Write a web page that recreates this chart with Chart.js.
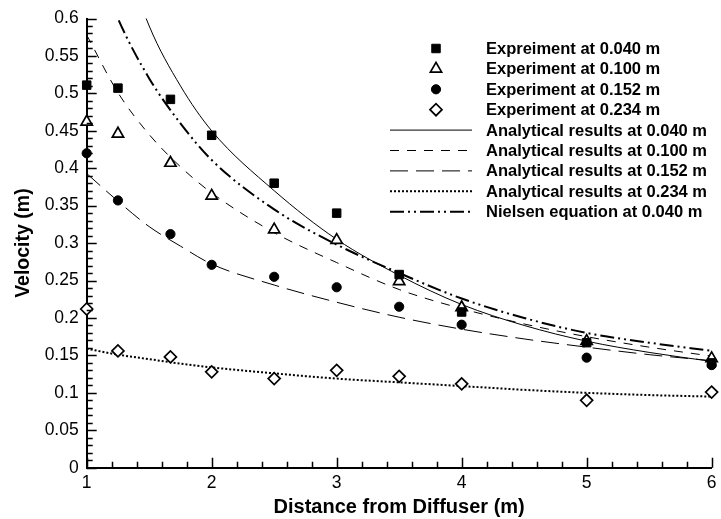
<!DOCTYPE html>
<html>
<head>
<meta charset="utf-8">
<script src="https://cdn.jsdelivr.net/npm/chart.js@4/dist/chart.umd.min.js"></script>
<style>
  html, body { margin: 0; padding: 0; background: #fff; }
  #wrap { width: 721px; height: 519px; }
</style>
</head>
<body>
<div id="wrap"><canvas id="c" width="721" height="519"></canvas></div>
<script>
// ---------- data ----------
const expX = [1, 1.25, 1.67, 2, 2.5, 3, 3.5, 4, 5, 6];
const exp040 = [0.511, 0.507, 0.492, 0.444, 0.380, 0.340, 0.258, 0.208, 0.167, 0.140];
const exp100 = [0.462, 0.446, 0.407, 0.363, 0.318, 0.304, 0.249, 0.214, 0.169, 0.146];
const exp152 = [0.420, 0.357, 0.312, 0.271, 0.255, 0.241, 0.215, 0.191, 0.147, 0.137];
const exp234 = [0.212, 0.156, 0.148, 0.128, 0.119, 0.130, 0.122, 0.112, 0.090, 0.101];

const curveX = [1, 1.25, 1.5, 1.75, 2, 2.5, 3, 3.5, 4, 4.5, 5, 5.5, 6];
const ana040  = [0.86, 0.71, 0.59, 0.51, 0.45, 0.37, 0.305, 0.257, 0.218, 0.19, 0.169, 0.154, 0.142];
const ana100  = [0.578, 0.501, 0.445, 0.402, 0.367, 0.314, 0.274, 0.238, 0.2125, 0.192, 0.175, 0.161, 0.149];
const ana152  = [0.393, 0.356, 0.322, 0.296, 0.272, 0.244, 0.221, 0.201, 0.185, 0.172, 0.161, 0.151, 0.143];
const ana234  = [0.159, 0.151, 0.145, 0.139, 0.134, 0.126, 0.119, 0.114, 0.109, 0.104, 0.100, 0.097, 0.095];
const nielsen = [0.71, 0.60, 0.52, 0.46, 0.411, 0.345, 0.298, 0.26, 0.226, 0.2, 0.18, 0.167, 0.156];

const seriesLabels = [
  'Expreiment at 0.040 m', 'Experiment at 0.100 m', 'Experiment at 0.152 m', 'Experiment at 0.234 m',
  'Analytical results at 0.040 m', 'Analytical results at 0.100 m', 'Analytical results at 0.152 m',
  'Analytical results at 0.234 m', 'Nielsen equation at 0.040 m'
];
const yTickLabels = ['0','0.05','0.1','0.15','0.2','0.25','0.3','0.35','0.4','0.45','0.5','0.55','0.6'];
const xTickLabels = ['1','2','3','4','5','6'];
const xTitle = 'Distance from Diffuser (m)';
const yTitle = 'Velocity (m)';

// ---------- build ----------
const FONT = '"Liberation Sans", Arial, Helvetica, sans-serif';
const pts = (xs, ys) => xs.map((x, i) => ({ x: x, y: ys[i] }));

function markerSet(label, ys, style, fill, r, bw) {
  return {
    label: label, data: pts(expX, ys), showLine: false,
    pointStyle: style, pointRadius: r, pointHoverRadius: r,
    pointBackgroundColor: fill, pointBorderColor: '#000', pointBorderWidth: bw,
    backgroundColor: fill, borderColor: '#000', borderWidth: bw, clip: false
  };
}
function curveSet(label, ys, dash, w) {
  return {
    label: label, data: pts(curveX, ys), showLine: true, pointRadius: 0,
    borderColor: '#000', borderWidth: w, borderDash: dash, fill: false,
    cubicInterpolationMode: 'monotone'
  };
}

const datasets = [
  markerSet(seriesLabels[0], exp040, 'rect', '#000', 6, 1),
  markerSet(seriesLabels[1], exp100, 'triangle', '#fff', 6.5, 1.7),
  markerSet(seriesLabels[2], exp152, 'circle', '#000', 4.6, 1),
  markerSet(seriesLabels[3], exp234, 'rectRot', '#fff', 6, 1.7),
  curveSet(seriesLabels[4], ana040, [], 1),
  curveSet(seriesLabels[5], ana100, [9, 8], 1),
  curveSet(seriesLabels[6], ana152, [18, 8], 1),
  curveSet(seriesLabels[7], ana234, [2, 2], 2),
  curveSet(seriesLabels[8], nielsen, [14, 4, 2, 4, 2, 4], 2)
];

// inward major/minor ticks on the two axes
const tickPlugin = {
  id: 'inwardTicks',
  afterDraw(chart) {
    const { ctx, chartArea: a, scales: { x, y } } = chart;
    ctx.save();
    ctx.strokeStyle = '#000';
    ctx.lineWidth = 1.5;
    ctx.beginPath();
    for (let k = 0; k <= 60; k++) {
      const py = Math.round(y.getPixelForValue(k / 100)) + 0.5;
      const len = (k % 5 === 0) ? 10 : 6;
      ctx.moveTo(a.left, py); ctx.lineTo(a.left + len, py);
    }
    for (let k = 0; k <= 25; k++) {
      const px = Math.round(x.getPixelForValue(1 + k * 0.2)) + 0.5;
      const len = (k % 5 === 0) ? 10 : 6;
      ctx.moveTo(px, a.bottom); ctx.lineTo(px, a.bottom - len);
    }
    ctx.stroke();
    ctx.restore();
  }
};

// legend drawn inside the plot area
const legendPlugin = {
  id: 'innerLegend',
  afterDraw(chart) {
    const ctx = chart.ctx;
    const ds = chart.data.datasets;
    const y0 = 48.5, dy = 20.4, mx = 436, lx0 = 390, lx1 = 472, tx = 486;
    ctx.save();
    ctx.font = 'bold 16.5px ' + FONT;
    ctx.textBaseline = 'middle';
    ctx.textAlign = 'left';
    ds.forEach((d, i) => {
      const yy = y0 + i * dy;
      ctx.setLineDash([]);
      if (d.showLine === false) {
        ctx.fillStyle = d.pointBackgroundColor;
        ctx.strokeStyle = '#000';
        ctx.lineWidth = d.pointBorderWidth;
        const r = d.pointRadius;
        ctx.beginPath();
        if (d.pointStyle === 'rect') {
          const s = r * Math.SQRT1_2;
          ctx.rect(mx - s, yy - s, 2 * s, 2 * s);
        } else if (d.pointStyle === 'triangle') {
          ctx.moveTo(mx, yy - r);
          ctx.lineTo(mx + r * 0.866, yy + r * 0.5);
          ctx.lineTo(mx - r * 0.866, yy + r * 0.5);
          ctx.closePath();
        } else if (d.pointStyle === 'circle') {
          ctx.arc(mx, yy, r, 0, Math.PI * 2);
        } else {
          ctx.moveTo(mx - r, yy); ctx.lineTo(mx, yy - r);
          ctx.lineTo(mx + r, yy); ctx.lineTo(mx, yy + r);
          ctx.closePath();
        }
        ctx.fill(); ctx.stroke();
      } else {
        ctx.strokeStyle = '#000';
        ctx.lineWidth = d.borderWidth;
        ctx.setLineDash(d.borderDash || []);
        ctx.beginPath();
        ctx.moveTo(lx0, yy); ctx.lineTo(lx1, yy);
        ctx.stroke();
        ctx.setLineDash([]);
      }
      ctx.fillStyle = '#000';
      ctx.fillText(d.label, tx, yy + 1);
    });
    ctx.restore();
  }
};

Chart.defaults.color = '#000';
Chart.defaults.font.family = FONT;

new Chart(document.getElementById('c'), {
  type: 'scatter',
  data: { datasets: datasets },
  options: {
    responsive: false,
    animation: false,
    events: [],
    layout: { padding: { left: 0, top: 13.5, right: 9.3, bottom: 0 } },
    plugins: { legend: { display: false }, tooltip: { enabled: false } },
    scales: {
      x: {
        type: 'linear', min: 1, max: 6,
        ticks: { stepSize: 1, padding: 4.5, font: { size: 17.5 }, color: '#000',
                 callback: (v, i) => xTickLabels[i] },
        grid: { display: true, drawOnChartArea: false, drawTicks: false },
        border: { display: true, color: '#000', width: 2 },
        title: { display: true, text: xTitle, font: { size: 20, weight: 'bold' }, padding: { top: 0, bottom: 0 } },
        afterFit: (s) => { s.height = 51.3; }
      },
      y: {
        type: 'linear', min: 0, max: 0.6,
        ticks: { stepSize: 0.05, padding: 8, font: { size: 17.5 }, color: '#000',
                 callback: (v, i) => yTickLabels[i] },
        grid: { display: true, drawOnChartArea: false, drawTicks: false },
        border: { display: true, color: '#000', width: 2 },
        title: { display: true, text: yTitle, font: { size: 19.5, weight: 'bold' }, padding: { top: 12, bottom: 0 } },
        afterFit: (s) => { s.width = 86.7; }
      }
    }
  },
  plugins: [tickPlugin, legendPlugin]
});
</script>
</body>
</html>
